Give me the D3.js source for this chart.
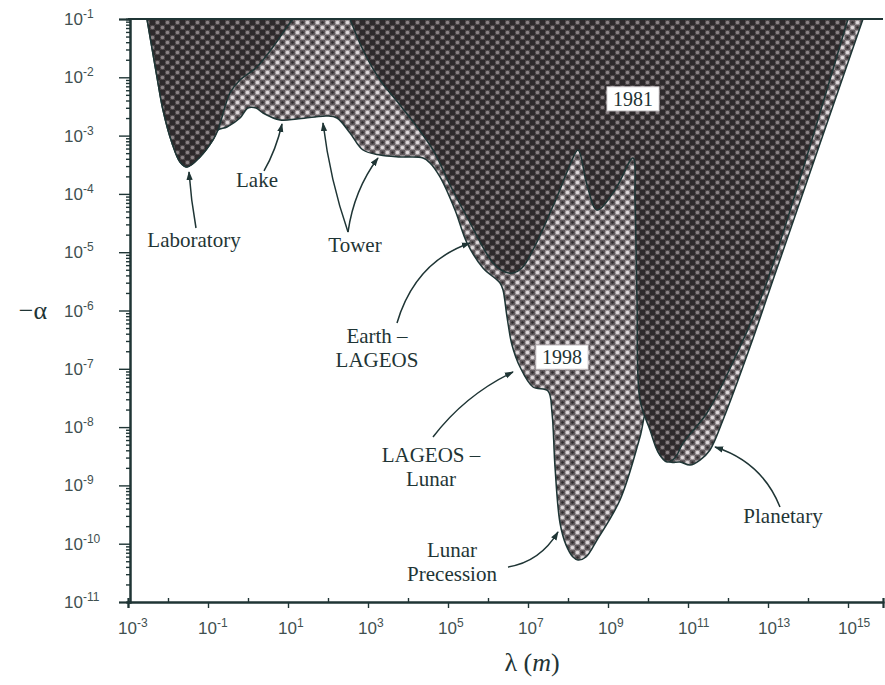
<!DOCTYPE html>
<html>
<head>
<meta charset="utf-8">
<script src="https://cdn.jsdelivr.net/npm/d3@7"></script>
<style>
	body{margin:0;background:#fff;}
	svg{display:block;}
</style>
</head>
<body>
<div id="chart"></div>
<script>
// all points are [log10 lambda (m), log10 (-alpha)]
const xTickExps = [-3,-1,1,3,5,7,9,11,13,15];
const yTickExps = [-1,-2,-3,-4,-5,-6,-7,-8,-9,-10,-11];

// 1981 excluded region, laboratory part
const lab1981 = [[-2.525,-1],[-2.275,-1.995],[-2.125,-2.561],[-1.9,-3.127],[-1.7,-3.453],[-1.525,-3.539],
	[-1.2,-3.367],[-0.875,-3.075],[-0.75,-2.904],[-0.45,-2.269],[-0.2,-2.046],[0.225,-1.823],[0.625,-1.48],
	[0.975,-1.137],[1.125,-1]];

// 1981 excluded region, geophysical / astronomical part
const main1981 = [[2.55,-1],[2.875,-1.532],[3.3,-2.046],[3.8,-2.475],[4.625,-3.247],[5.05,-3.847],[5.475,-4.396],
	[6.125,-5.185],[6.425,-5.34],[6.625,-5.357],[6.85,-5.27],[7.125,-4.962],[7.725,-4.053],[8.05,-3.504],
	[8.25,-3.247],[8.475,-3.847],[8.725,-4.276],[9.175,-3.933],[9.625,-3.384],[9.675,-4.105],[9.725,-5.82],
	[9.8,-7.535],[10.05,-8.05],[10.25,-8.427],[10.475,-8.599],[10.675,-8.53],[10.875,-8.273],[11.475,-7.758],
	[12.3,-6.626],[12.875,-5.7],[13.675,-4.019],[15,-1]];

// 1998 excluded region
const limit1998 = [[-2.525,-1],[-2.275,-1.995],[-2.125,-2.561],[-1.9,-3.127],[-1.7,-3.453],[-1.525,-3.539],
	[-1.2,-3.367],[-0.875,-3.075],[-0.75,-2.904],[-0.525,-2.852],[-0.2,-2.698],[0,-2.527],[0.2,-2.527],
	[0.375,-2.612],[0.8,-2.732],[1.225,-2.715],[1.675,-2.681],[1.975,-2.664],[2.225,-2.698],[2.55,-2.955],
	[2.875,-3.247],[3.3,-3.333],[3.8,-3.367],[4.375,-3.384],[4.55,-3.47],[4.8,-3.71],[5.175,-4.276],
	[5.475,-4.842],[5.875,-5.271],[6.3,-5.528],[6.375,-5.648],[6.475,-6.111],[6.6,-6.592],[6.8,-6.969],
	[7.125,-7.312],[7.5,-7.381],[7.6,-7.758],[7.675,-8.684],[7.8,-9.645],[7.95,-10.02],[8.125,-10.228],
	[8.25,-10.28],[8.45,-10.228],[8.725,-9.937],[9.3,-9.25],[9.8,-8.17],[9.975,-7.707],[10.3,-8.479],
	[10.55,-8.6],[10.8,-8.6],[11.05,-8.65],[11.3,-8.565],[11.55,-8.393],[11.875,-7.878],[12.55,-6.626],
	[13.125,-5.477],[15.375,-1]];

// annotation text: lines, anchor point (centre, first baseline)
const noteLabels = [
	{lines:['Laboratory'], at:[-1.35,-4.911]},
	{lines:['Lake'], at:[0.225,-3.882]},
	{lines:['Tower'], at:[2.675,-4.997]},
	{lines:['Earth \u2013','LAGEOS'], at:[3.225,-6.557]},
	{lines:['LAGEOS \u2013','Lunar'], at:[4.575,-8.599]},
	{lines:['Lunar','Precession'], at:[5.1,-10.228]},
	{lines:['Planetary'], at:[13.375,-9.645]}
];

// arrows: from, control, to
const noteArrows = [
	[[-1.3,-4.585],[-1.425,-4.105],[-1.475,-3.624]],
	[[0.4,-3.607],[0.7,-3.247],[0.85,-2.801]],
	[[2.5,-4.654],[2.05,-3.762],[1.875,-2.784]],
	[[2.5,-4.654],[2.65,-3.933],[3.25,-3.384]],
	[[3.725,-6.214],[4.175,-5.168],[5.55,-4.842]],
	[[4.625,-8.17],[5.425,-7.449],[6.625,-7.055]],
	[[6.5,-10.4],[7.3,-10.314],[7.75,-9.799]],
	[[13.3,-9.37],[12.85,-8.599],[11.675,-8.341]]
];

const yearBoxes = [
	{text:'1981', at:[9.625,-2.37]},
	{text:'1998', at:[7.85,-6.8]}
];

const width = 885, height = 685;
const ink = '#1f3535';

const x = d3.scaleLog().domain([1e-3, Math.pow(10,15.875)]).range([128,883]);
const y = d3.scaleLog().domain([1e-1, 1e-11]).range([19,602]);
const px = d => x(Math.pow(10,d[0]));
const py = d => y(Math.pow(10,d[1]));

const svg = d3.select('#chart').append('svg')
	.attr('width',width)
	.attr('height',height);

//halftone-like fills
const defs = svg.append('defs');
function halftone(id, base, cell, dot, core){
	const p = defs.append('pattern')
		.attr('id',id)
		.attr('patternUnits','userSpaceOnUse')
		.attr('width',10).attr('height',10);
	p.append('rect').attr('width',10).attr('height',10).attr('fill',base);
	p.append('rect').attr('width',5).attr('height',5).attr('fill',cell);
	p.append('rect').attr('x',5).attr('y',5).attr('width',5).attr('height',5).attr('fill',cell);
	p.append('circle').attr('cx',7.5).attr('cy',2.5).attr('r',1.8).attr('fill',dot);
	p.append('circle').attr('cx',2.5).attr('cy',7.5).attr('r',1.8).attr('fill',dot);
	if(core){
		p.append('circle').attr('cx',2.5).attr('cy',2.5).attr('r',1.2).attr('fill',core);
		p.append('circle').attr('cx',7.5).attr('cy',7.5).attr('r',1.2).attr('fill',core);
	}
}
halftone('dark','#474143','#2d292b','#8a8285',null);
halftone('light','#948d90','#625b5e','#dfd9db','#2f2a2c');

const marker = defs.append('marker')
	.attr('id','arrow')
	.attr('viewBox','0 0 10 10')
	.attr('refX',9).attr('refY',5)
	.attr('markerWidth',9).attr('markerHeight',9)
	.attr('markerUnits','userSpaceOnUse')
	.attr('orient','auto');
marker.append('path').attr('d','M0,1.5L10,5L0,8.5Z').attr('fill',ink);

const area = d3.line()
	.x(px).y(py)
	.curve(d3.curveCatmullRom.alpha(0.5));

const regions = svg.append('g').attr('class','regions');
regions.append('path')
	.datum(limit1998)
	.attr('d',d => area(d) + 'Z')
	.attr('fill','url(#light)')
	.attr('stroke',ink).attr('stroke-width',1.5);
[lab1981, main1981].forEach(r => {
	regions.append('path')
		.datum(r)
		.attr('d',d => area(d) + 'Z')
		.attr('fill','url(#dark)')
		.attr('stroke',ink).attr('stroke-width',1.5);
});

//Axes
const minors = [];
for(let e=-11;e<-1;e++){ for(let k=2;k<10;k++) minors.push(k*Math.pow(10,e)); }

const axisY = svg.append('g')
	.attr('transform',`translate(${x(1e-3)+2},0)`);
axisY.call(d3.axisLeft(y).tickValues(minors).tickSize(4).tickFormat(''));
axisY.call(g => g.append('g').call(d3.axisLeft(y).tickValues(yTickExps.map(e => Math.pow(10,e))).tickSize(11).tickFormat('')));
axisY.selectAll('.domain').attr('stroke',ink).attr('stroke-width',2);
axisY.selectAll('.tick line').attr('stroke',ink).attr('stroke-width',1.4);

const allDecades = d3.range(-3,16).map(e => Math.pow(10,e));
const axisX = svg.append('g')
	.attr('transform',`translate(0,${y(1e-11)})`);
axisX.call(d3.axisBottom(x).tickValues(xTickExps.map(e => Math.pow(10,e))).tickSize(6).tickFormat(''));
axisX.call(g => g.append('g').call(d3.axisBottom(x).tickValues(allDecades.filter((d,i) => i%2===1)).tickSize(-4).tickFormat('')));
axisX.selectAll('.domain').attr('stroke',ink).attr('stroke-width',2.2);
axisX.selectAll('.tick line').attr('stroke',ink).attr('stroke-width',1.4);

//top frame line
svg.append('line')
	.attr('x1',x(1e-3)).attr('x2',x.range()[1])
	.attr('y1',y(1e-1)).attr('y2',y(1e-1))
	.attr('stroke',ink).attr('stroke-width',2.2);

//tick labels with superscript exponents
function power(sel, e){
	sel.append('tspan').text('10');
	sel.append('tspan').attr('dy',-7).attr('font-size',12).text(e < 0 ? '-' + (-e) : e);
}
svg.append('g').selectAll('text')
	.data(yTickExps)
	.join('text')
	.attr('x',64)
	.attr('y',e => y(Math.pow(10,e)) + 6)
	.attr('font-family','Liberation Sans, Arial, sans-serif')
	.attr('font-size',17)
	.attr('fill','#3f5050')
	.each(function(e){ power(d3.select(this), e); });

svg.append('g').selectAll('text')
	.data(xTickExps)
	.join('text')
	.attr('x',e => x(Math.pow(10,e)) - 10)
	.attr('y',y(1e-11) + 32)
	.attr('font-family','Liberation Sans, Arial, sans-serif')
	.attr('font-size',17)
	.attr('fill','#3f5050')
	.each(function(e){ power(d3.select(this), e); });

//axis titles
svg.append('text')
	.attr('x',33).attr('y',y(1e-6) + 8)
	.attr('text-anchor','middle')
	.attr('font-family','Liberation Serif, Times New Roman, serif')
	.attr('font-size',26)
	.attr('fill',ink)
	.text('\u2212\u03b1');

const xTitle = svg.append('text')
	.attr('x',x(Math.pow(10,7.1))).attr('y',671)
	.attr('text-anchor','middle')
	.attr('font-family','Liberation Serif, Times New Roman, serif')
	.attr('font-size',26)
	.attr('fill',ink);
xTitle.append('tspan').text('\u03bb (');
xTitle.append('tspan').attr('font-style','italic').text('m');
xTitle.append('tspan').text(')');

//annotations
const notes = svg.append('g')
	.attr('font-family','Liberation Serif, Times New Roman, serif')
	.attr('font-size',21)
	.attr('fill',ink);
notes.selectAll('text')
	.data(noteLabels)
	.join('text')
	.attr('text-anchor','middle')
	.attr('transform',d => `translate(${px(d.at)},${py(d.at)})`)
	.each(function(d){
		d3.select(this).selectAll('tspan')
			.data(d.lines)
			.join('tspan')
			.attr('x',0)
			.attr('y',(l,i) => i*24)
			.text(l => l);
	});

notes.selectAll('path')
	.data(noteArrows)
	.join('path')
	.attr('d',d => `M${px(d[0])},${py(d[0])}Q${px(d[1])},${py(d[1])} ${px(d[2])},${py(d[2])}`)
	.attr('fill','none')
	.attr('stroke',ink)
	.attr('stroke-width',1.5)
	.attr('marker-end','url(#arrow)');

//year boxes
const boxes = svg.append('g').selectAll('g')
	.data(yearBoxes)
	.join('g')
	.attr('transform',d => `translate(${px(d.at)},${py(d.at)})`);
boxes.append('rect')
	.attr('x',-26).attr('y',-12)
	.attr('width',52).attr('height',24)
	.attr('fill','#fff')
	.attr('stroke','#d8d4d6');
boxes.append('text')
	.attr('text-anchor','middle')
	.attr('y',7)
	.attr('font-family','Liberation Serif, Times New Roman, serif')
	.attr('font-size',20)
	.attr('fill',ink)
	.text(d => d.text);
</script>
</body>
</html>
